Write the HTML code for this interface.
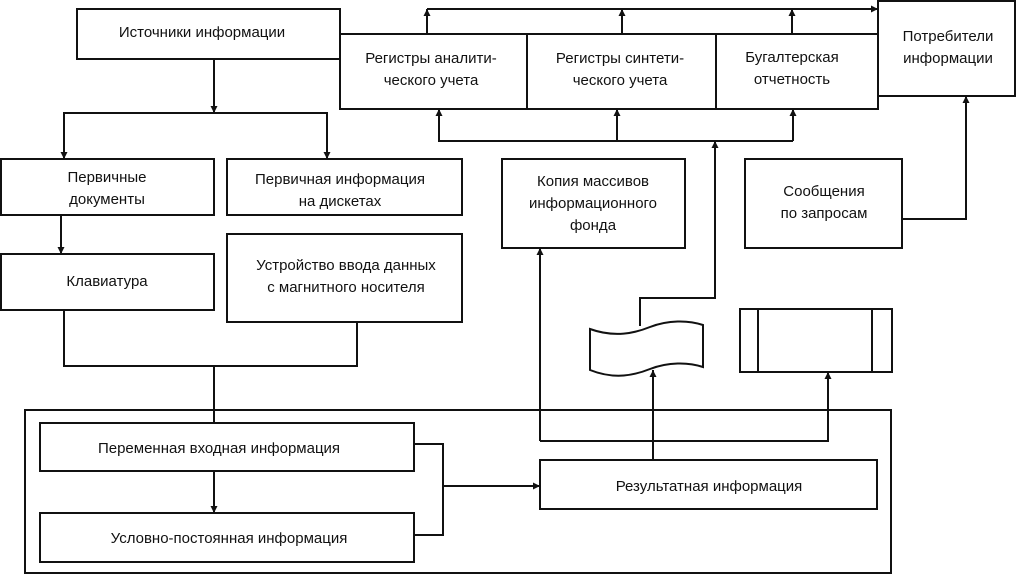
<!DOCTYPE html>
<html><head><meta charset="utf-8"><style>
html,body{margin:0;padding:0;background:#fff;}
svg{display:block;}
text{font-family:"Liberation Sans",sans-serif;font-size:15px;fill:#111;text-anchor:middle;}
.c{font-size:15px;}
</style></head><body>
<svg width="1017" height="575" viewBox="0 0 1017 575" xmlns="http://www.w3.org/2000/svg">
<defs><marker id="a" viewBox="0 0 10 10" refX="10" refY="5" markerWidth="7" markerHeight="9" markerUnits="userSpaceOnUse" orient="auto"><path d="M0,0L10,5L0,10z" fill="#111"/></marker></defs>
<g fill="none" stroke="#111" stroke-width="2">
<rect x="77" y="9" width="263" height="50"/>
<rect x="340" y="34" width="538" height="75"/>
<line x1="527" y1="34" x2="527" y2="109"/><line x1="716" y1="34" x2="716" y2="109"/>
<rect x="878" y="1" width="137" height="95"/>
<line x1="427" y1="9" x2="878" y2="9" marker-end="url(#a)"/>
<line x1="427" y1="34" x2="427" y2="9" marker-end="url(#a)"/>
<line x1="622" y1="34" x2="622" y2="9" marker-end="url(#a)"/>
<line x1="792" y1="34" x2="792" y2="9" marker-end="url(#a)"/>
<polyline points="439,109 439,141 793,141"/>
<line x1="439" y1="141" x2="439" y2="109" marker-end="url(#a)"/>
<line x1="617" y1="141" x2="617" y2="109" marker-end="url(#a)"/>
<line x1="793" y1="141" x2="793" y2="109" marker-end="url(#a)"/>
<polyline points="640,326 640,298 715,298 715,141" marker-end="url(#a)"/>
<line x1="214" y1="59" x2="214" y2="113" marker-end="url(#a)"/>
<polyline points="64,159 64,113 327,113 327,159"/>
<line x1="64" y1="113" x2="64" y2="159" marker-end="url(#a)"/>
<line x1="327" y1="113" x2="327" y2="159" marker-end="url(#a)"/>
<rect x="1" y="159" width="213" height="56"/>
<rect x="227" y="159" width="235" height="56"/>
<line x1="61" y1="215" x2="61" y2="254" marker-end="url(#a)"/>
<rect x="1" y="254" width="213" height="56"/>
<rect x="227" y="234" width="235" height="88"/>
<rect x="502" y="159" width="183" height="89"/>
<rect x="745" y="159" width="157" height="89"/>
<polyline points="902,219 966,219 966,96" marker-end="url(#a)"/>
<polyline points="64,310 64,366 357,366 357,322"/>
<line x1="214" y1="366" x2="214" y2="423"/>
<rect x="25" y="410" width="866" height="163"/>
<rect x="40" y="423" width="374" height="48"/>
<rect x="40" y="513" width="374" height="49"/>
<line x1="214" y1="471" x2="214" y2="513" marker-end="url(#a)"/>
<polyline points="414,444 443,444 443,535 414,535"/>
<line x1="443" y1="486" x2="540" y2="486" marker-end="url(#a)"/>
<rect x="540" y="460" width="337" height="49"/>
<polyline points="540,441 540,248" marker-end="url(#a)"/>
<polyline points="540,441 828,441 828,372" marker-end="url(#a)"/>
<line x1="653" y1="460" x2="653" y2="370" marker-end="url(#a)"/>
<path d="M590,329 C615,338 635,333 650,327 C668,320 688,320 703,325 L703,367 C688,362 668,362 650,369 C635,375 615,380 590,370 Z"/>
<rect x="740" y="309" width="152" height="63"/>
<line x1="758" y1="309" x2="758" y2="372"/><line x1="872" y1="309" x2="872" y2="372"/>
</g>
<text x="202" y="37">Источники информации</text>
<text x="431" y="63">Регистры аналити-</text><text x="431" y="85">ческого учета</text>
<text x="620" y="63">Регистры синтети-</text><text x="620" y="85">ческого учета</text>
<text x="792" y="62">Бугалтерская</text>
<text x="792" y="84">отчетность</text>
<text x="948" y="41">Потребители</text><text x="948" y="63">информации</text>
<text x="107" y="182">Первичные</text><text x="107" y="204">документы</text>
<text x="340" y="184">Первичная информация</text><text x="340" y="206">на дискетах</text>
<text x="107" y="286">Клавиатура</text>
<text x="346" y="270">Устройство ввода данных</text><text x="346" y="292">с магнитного носителя</text>
<text x="593" y="186">Копия массивов</text><text x="593" y="208">информационного</text><text x="593" y="230">фонда</text>
<text x="824" y="196">Сообщения</text><text x="824" y="218">по запросам</text>
<text x="219" y="453">Переменная входная информация</text>
<text x="229" y="543">Условно-постоянная информация</text>
<text x="709" y="491">Результатная информация</text>
</svg>
</body></html>
